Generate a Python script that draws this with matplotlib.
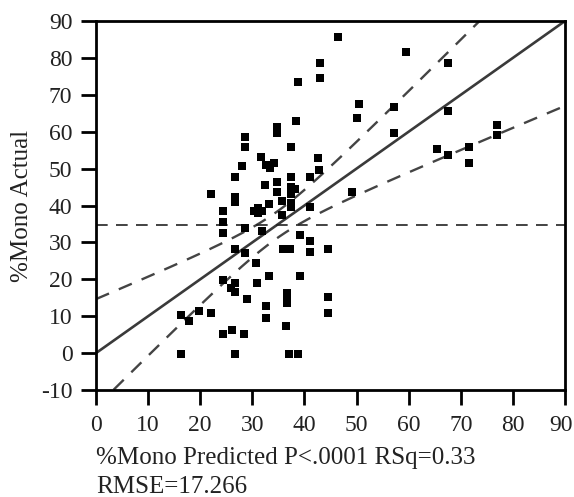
import numpy as np
import matplotlib.pyplot as plt
from matplotlib.transforms import ScaledTranslation

plt.rcParams['font.family'] = ['Liberation Serif', 'DejaVu Serif']
plt.rcParams['axes.unicode_minus'] = False

# %Mono predicted (x) and actual (y)
predicted = [16.3, 16.3, 17.9, 19.8, 22.1, 22.1, 24.4, 24.4, 24.4, 24.4,
             24.4, 25.9, 26.7, 26.7, 26.1, 26.7, 26.7, 26.7, 26.7, 26.7,
             28.0, 28.6, 28.6, 28.6, 28.6, 29.0, 28.4, 30.7, 30.9, 31.7,
             30.3, 31.1, 31.1, 31.9, 31.9, 32.4, 32.6, 33.4, 34.2, 33.2,
             33.2, 32.6, 32.6, 34.7, 34.7, 34.7, 34.7, 35.7, 35.7, 35.9,
             37.2, 36.7, 36.7, 36.6, 36.5, 37.0, 38.8, 37.4, 37.4, 37.4,
             37.4, 37.4, 37.4, 38.2, 38.4, 38.8, 39.2, 39.2, 41.1, 41.1,
             41.1, 41.1, 42.6, 42.8, 43.0, 43.0, 44.5, 44.5, 44.5, 46.4,
             49.1, 50.5, 50.1, 57.2, 57.2, 59.5, 67.6, 67.6, 65.4, 67.6,
             71.6, 71.6, 77.0, 77.0]
actual = [10.2, -0.2, 8.7, 11.4, 10.9, 43.1, 38.5, 35.5, 32.5, 19.8,
          5.2, 17.6, 19.0, 16.6, 6.3, -0.2, 47.7, 42.3, 40.9, 28.2,
          50.7, 58.6, 55.9, 27.1, 34.0, 14.7, 5.2, 24.4, 19.0, 53.1,
          38.6, 39.4, 37.9, 38.6, 33.1, 45.6, 51.0, 50.2, 51.6, 40.5,
          20.8, 12.8, 9.5, 61.3, 59.6, 46.4, 43.7, 41.3, 37.4, 28.2,
          28.2, 16.3, 14.8, 13.6, 7.3, -0.2, -0.2, 55.9, 47.6, 45.0,
          43.0, 40.7, 39.6, 44.5, 63.0, 73.5, 32.0, 20.9, 47.6, 39.6,
          30.5, 27.5, 52.9, 49.6, 78.6, 74.6, 28.2, 15.2, 10.9, 85.7,
          43.7, 67.5, 63.7, 66.7, 59.6, 81.6, 78.6, 65.6, 55.3, 53.7,
          55.9, 51.5, 61.8, 59.1]

mean_actual = 34.6      # horizontal reference line
fit_intercept = 0.0
fit_slope = 1.0
band_center = 34.6      # confidence curves: narrowest point
band_half_width = 3.6
band_spread = 0.41

fig = plt.figure(figsize=(5.74, 4.97), dpi=100)
ax = fig.add_axes([96 / 574, 107 / 497, 469 / 574, 369 / 497])

ax.scatter(predicted, actual, marker='s', s=28, color='black', linewidths=0, zorder=3)

xs = np.linspace(0, 90, 300)
fit = fit_intercept + fit_slope * xs
w = np.sqrt(band_half_width ** 2 + (band_spread * (xs - band_center)) ** 2)
ax.plot(xs, fit, color='#3a3a3a', lw=1.9, zorder=2)
ax.plot(xs, fit + w, color='#444444', lw=1.7, dashes=(6, 4.5), zorder=2)
ax.plot(xs, fit - w, color='#444444', lw=1.7, dashes=(6, 4.5), zorder=2)
ax.axhline(mean_actual, color='#222222', lw=1.2, dashes=(7, 5), zorder=2)

ax.set_xlim(0, 90)
ax.set_ylim(-10, 90)
ax.set_xticks(range(0, 91, 10))
ax.set_yticks(range(-10, 91, 10))
for s in ax.spines.values():
    s.set_linewidth(2)
ax.tick_params(direction='out', length=11, width=2, labelsize=17,
               labelcolor='#222222')
ax.tick_params(axis='x', pad=7)
ax.tick_params(axis='y', pad=6)

# keep the last x tick label inside the figure
last = ax.get_xticklabels()[-1]
last.set_transform(last.get_transform() + ScaledTranslation(-4 / 100, 0, fig.dpi_scale_trans))

ax.set_ylabel('%Mono Actual', fontsize=18, color='#222222')
ax.yaxis.set_label_coords(-0.134, 0.5)

fig.text(96 / 574, 1 - 458 / 497, '%Mono Predicted P<.0001 RSq=0.33',
         fontsize=18, color='#222222', ha='left', va='center')
fig.text(96 / 574, 1 - 487 / 497, 'RMSE=17.266',
         fontsize=18, color='#222222', ha='left', va='center')

fig.savefig('out.png', dpi=100)
